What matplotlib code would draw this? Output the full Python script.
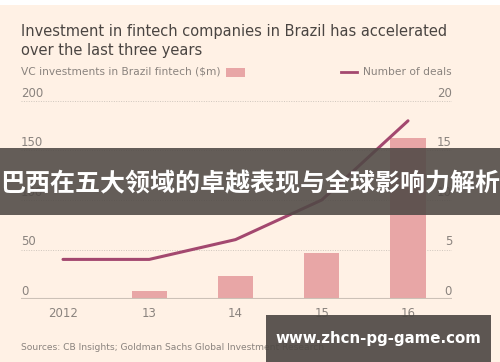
import matplotlib.pyplot as plt
from matplotlib.patches import Rectangle

years = ["2012", "13", "14", "15", "16"]
vc_investment = [1, 8, 23, 46, 163]
deals = [4, 4, 6, 10, 18]
left_ticks = [0, 50, 100, 150, 200]
right_ticks = [0, 5, 10, 15, 20]

bg = "#FFF1E5"
bar_col = "#E8A6A6"
line_col = "#A3486F"
grey = "#8A837E"

W, H = 500, 362
fig = plt.figure(figsize=(W / 100, H / 100), dpi=100, facecolor=bg)

# white strip along the top
fig.patches.append(Rectangle((0, 1 - 5 / H), 1, 5 / H, transform=fig.transFigure,
                             facecolor="white", edgecolor="none", zorder=0))

x0, x1, y_top, y_bot = 21, 452, 101, 299
ax = fig.add_axes([x0 / W, 1 - y_bot / H, (x1 - x0) / W, (y_bot - y_top) / H])
ax.set_facecolor("none")
pos = list(range(len(years)))
ax.bar(pos, vc_investment, width=0.41, color=bar_col, zorder=2)
ax.set_xlim(-0.487, 4.51)
ax.set_ylim(0, 200)
for v in left_ticks[1:]:
    ax.axhline(v, color="#CFC6BD", lw=0.7, ls=(0, (1, 1.5)), zorder=1)
ax.axhline(0, color="#CCC1B7", lw=1.5, zorder=3)
for s in ax.spines.values():
    s.set_visible(False)
ax.set_yticks([])
ax.set_xticks(pos)
ax.set_xticklabels(years, fontsize=8.5, color=grey)
ax.tick_params(axis="x", length=0, pad=6)
for v in left_ticks:
    ax.text(0, v + 1.5, str(v), transform=ax.get_yaxis_transform(), ha="left",
            va="bottom", fontsize=8.5, color=grey)

ax2 = ax.twinx()
ax2.plot(pos, deals, color=line_col, lw=2.2, solid_capstyle="round", zorder=4)
ax2.set_ylim(0, 20)
ax2.set_yticks([])
for s in ax2.spines.values():
    s.set_visible(False)
for v in right_ticks:
    ax2.text(1, v + 0.15, str(v), transform=ax2.get_yaxis_transform(), ha="right",
             va="bottom", fontsize=8.5, color=grey)

# titles and legend row
fig.text(x0 / W, 1 - 55 / H, "Investment in fintech companies in Brazil has accelerated\nover the last three years",
         fontsize=10.5, color="#4A4542", va="baseline", linespacing=1.35)
fig.text(x0 / W, 1 - 75 / H, "VC investments in Brazil fintech ($m)", fontsize=7.7,
         color=grey, va="baseline")
fig.patches.append(Rectangle((226 / W, 1 - 77 / H), 19 / W, 9 / H, transform=fig.transFigure,
                             facecolor=bar_col, edgecolor="none"))
fig.add_artist(plt.Line2D([341 / W, 357 / W], [1 - 72 / H, 1 - 72 / H], color=line_col, lw=2))
fig.text(x1 / W, 1 - 75 / H, "Number of deals", fontsize=7.7, color=grey, va="baseline", ha="right")
fig.text(x0 / W, 1 - 350 / H, "Sources: CB Insights; Goldman Sachs Global Investment Research",
         fontsize=6.6, color=grey, va="baseline")

# overlay banners
fig.patches.append(Rectangle((0, 1 - 215 / H), 1, 67 / H, transform=fig.transFigure,
                             facecolor="#4F4945", alpha=0.88, edgecolor="none", zorder=10))
fig.text(0.5, 1 - 184 / H, "巴西在五大领域的卓越表现与全球影响力解析", fontsize=18, color="white",
         weight="bold", ha="center", va="center", zorder=11,
         family=["Noto Sans CJK SC", "DejaVu Sans"])
fig.patches.append(Rectangle((266 / W, 0), 225 / W, 47 / H, transform=fig.transFigure,
                             facecolor="#4F4945", alpha=0.92, edgecolor="none", zorder=10))
fig.text(378 / W, 1 - 338 / H, "www.zhcn-pg-game.com", fontsize=10.8, color="white",
         weight="bold", ha="center", va="center", zorder=11)

fig.savefig("out.png", dpi=100, facecolor=bg)
